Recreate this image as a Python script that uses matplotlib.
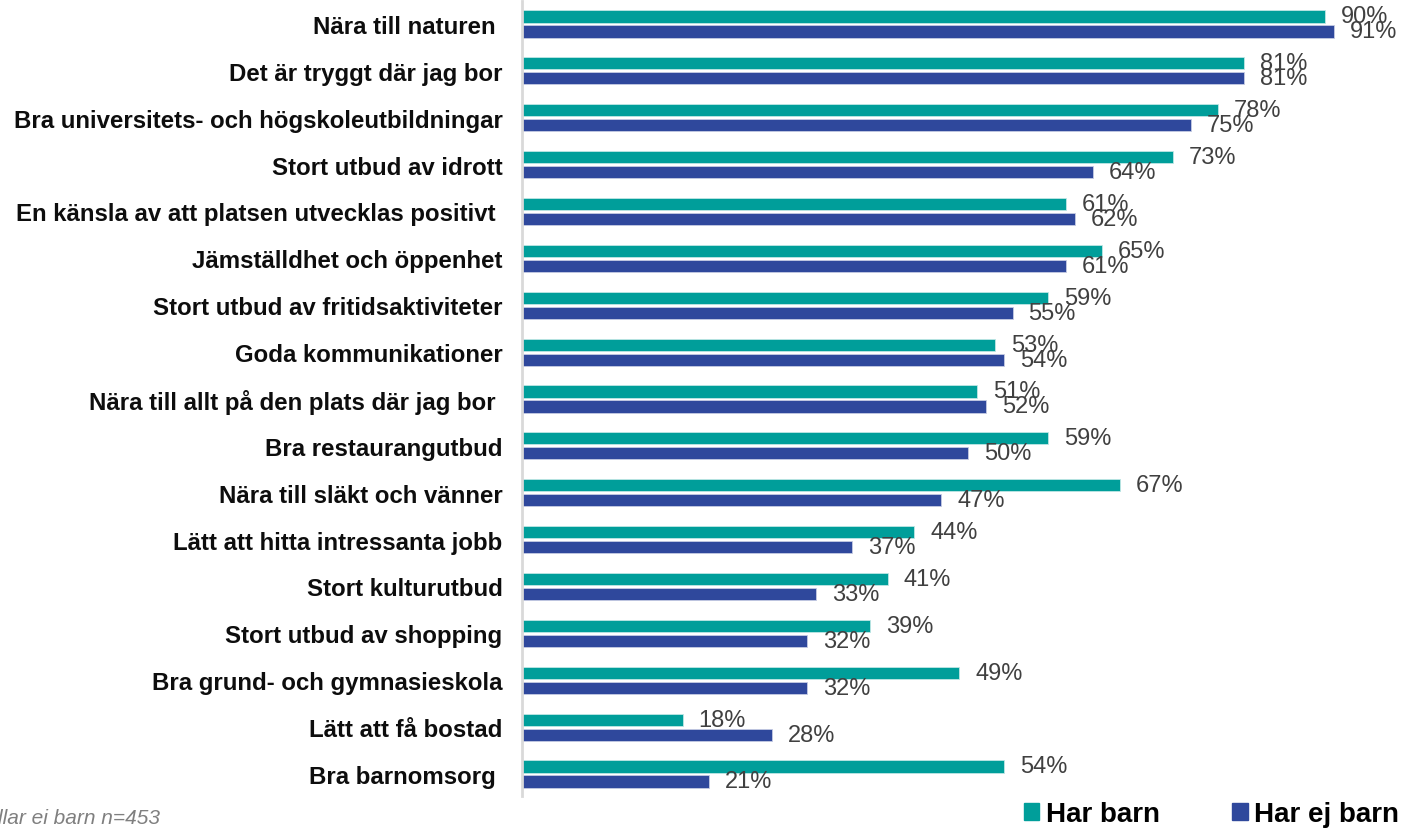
import matplotlib.pyplot as plt
import numpy as np
from matplotlib.patches import Patch

plt.rcParams['font.family'] = ['Liberation Sans', 'DejaVu Sans']

categories = [
    "Nära till naturen ",
    "Det är tryggt där jag bor",
    "Bra universitets- och högskoleutbildningar",
    "Stort utbud av idrott",
    "En känsla av att platsen utvecklas positivt ",
    "Jämställdhet och öppenhet",
    "Stort utbud av fritidsaktiviteter",
    "Goda kommunikationer",
    "Nära till allt på den plats där jag bor ",
    "Bra restaurangutbud",
    "Nära till släkt och vänner",
    "Lätt att hitta intressanta jobb",
    "Stort kulturutbud",
    "Stort utbud av shopping",
    "Bra grund- och gymnasieskola",
    "Lätt att få bostad",
    "Bra barnomsorg ",
]
har_barn = [90, 81, 78, 73, 61, 65, 59, 53, 51, 59, 67, 44, 41, 39, 49, 18, 54]
har_ej_barn = [91, 81, 75, 64, 62, 61, 55, 54, 52, 50, 47, 37, 33, 32, 32, 28, 21]
series_names = ["Har barn", "Har ej barn"]

teal = "#009e9a"
blue = "#2f489c"

fig = plt.figure(figsize=(14.05, 8.29), dpi=100)
ax = fig.add_axes([522 / 1405, 32 / 829, 883 / 1405, 795 / 829])

y = np.arange(len(categories))
h = 0.26
off = 0.16
ax.barh(y - off, har_barn, height=h, color=teal, edgecolor="#bfe6e5", linewidth=0.6)
ax.barh(y + off, har_ej_barn, height=h, color=blue, edgecolor="#c5cbe3", linewidth=0.6)

for yi, v in zip(y, har_barn):
    ax.annotate(f"{v}%", (v, yi - off), xytext=(16, 0), textcoords="offset pixels",
                va="center", ha="left", fontsize=17, color="#404040")
for yi, v in zip(y, har_ej_barn):
    ax.annotate(f"{v}%", (v, yi + off), xytext=(16, 0), textcoords="offset pixels",
                va="center", ha="left", fontsize=17, color="#404040")

ax.set_xlim(0, 99)
ax.set_ylim(len(categories) - 0.53, -0.49)
ax.set_yticks(y)
ax.set_yticklabels(categories, fontsize=17.3, fontweight="bold", color="#0d0d0d")
ax.tick_params(axis="y", length=0, pad=14)
ax.set_xticks([])
for s in ["top", "right", "bottom"]:
    ax.spines[s].set_visible(False)
ax.spines["left"].set_color("#d9d9d9")
ax.spines["left"].set_linewidth(2)

# legend
handles = [Patch(color=teal), Patch(color=blue)]
fig.legend(handles, series_names, loc="center right", bbox_to_anchor=(1.0, 1 - 815 / 829),
           ncol=2, frameon=False, prop={"weight": "bold", "size": 20},
           handlelength=0.55, handleheight=0.55, handletextpad=0.25, columnspacing=2.6,
           borderaxespad=0.0, borderpad=0.2)

fig.text(160 / 1405, 1 - 819 / 829, "Bas: Hushållar ei barn n=453", ha="right", va="center",
         fontsize=15, style="italic", color="#7f7f7f")

fig.savefig("out.png", dpi=100)
